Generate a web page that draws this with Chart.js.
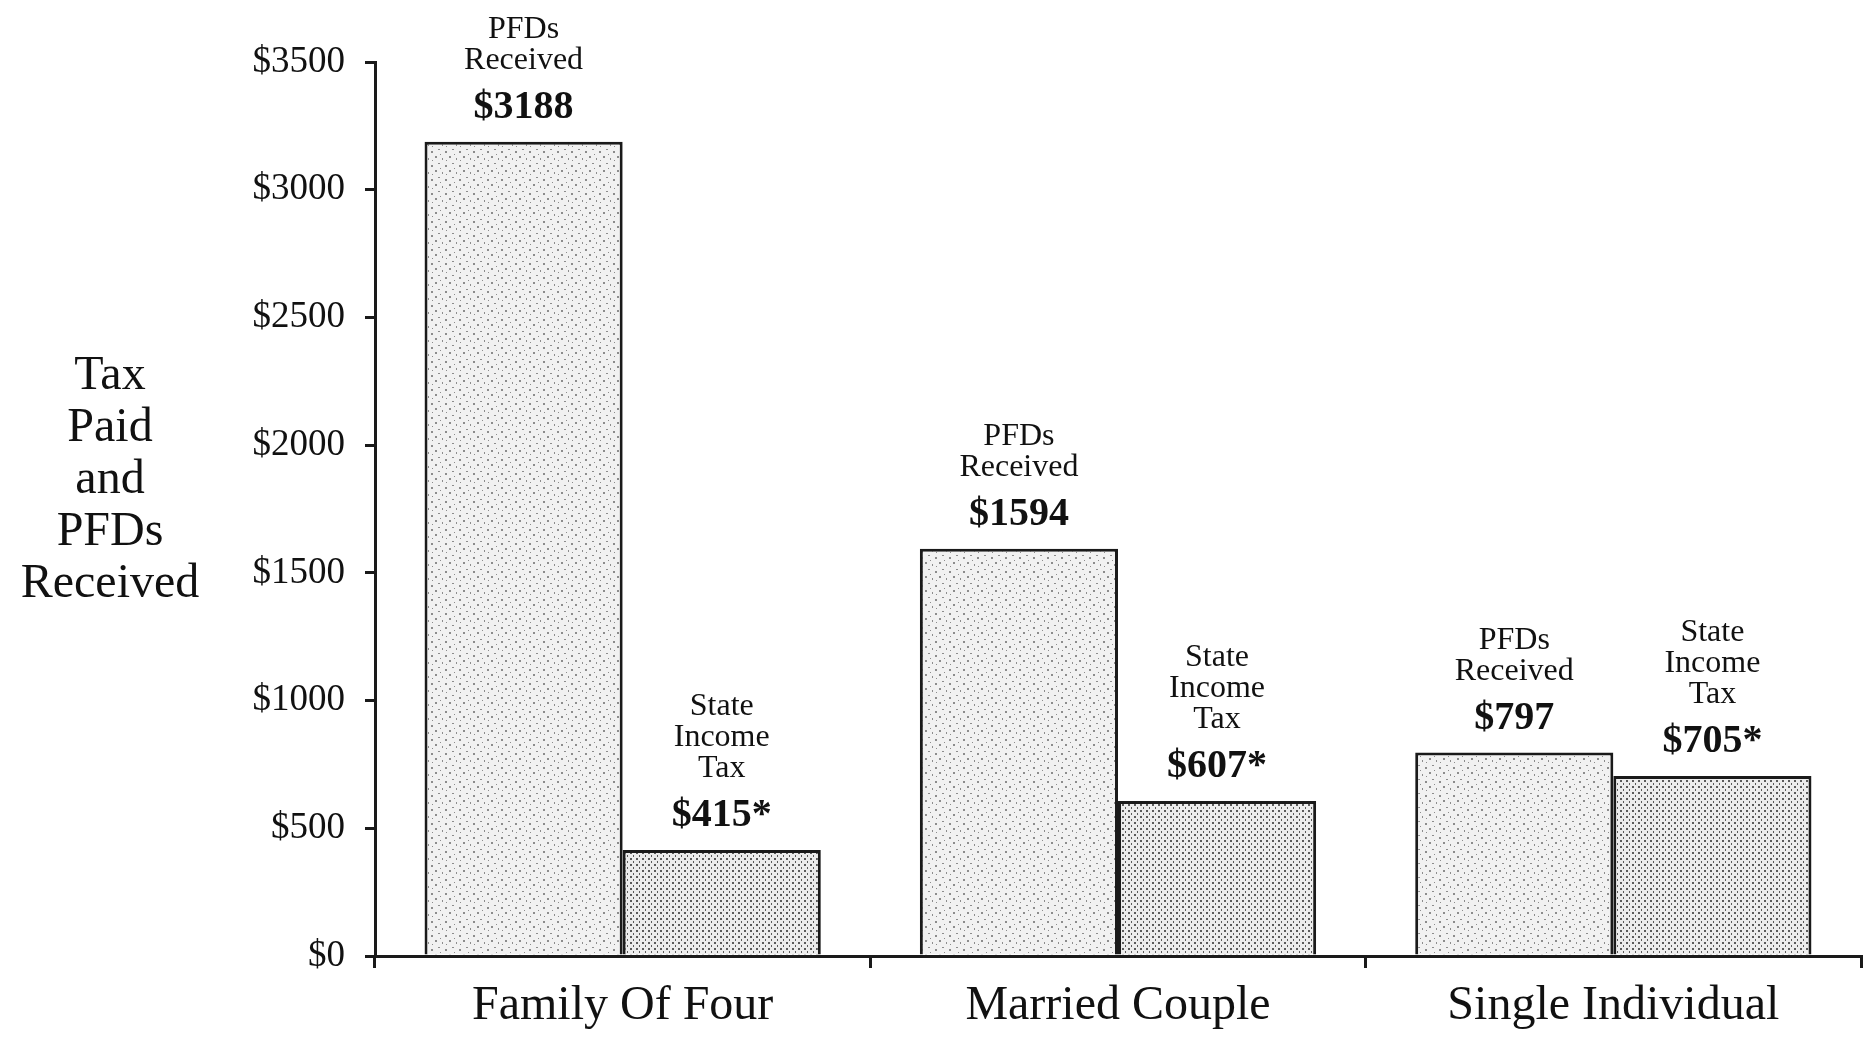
<!DOCTYPE html>
<html>
<head>
<meta charset="utf-8">
<script src="https://cdn.jsdelivr.net/npm/chart.js@4.4.1/dist/chart.umd.min.js"></script>
<style>
  html, body { margin: 0; padding: 0; background: #ffffff; }
  #wrap { width: 1873px; height: 1053px; position: relative; }
</style>
</head>
<body>
<div id="wrap"><canvas id="c"></canvas></div>
<script>
// ---- Data ----
const categories = ['Family Of Four', 'Married Couple', 'Single Individual'];
const pfdReceived = [3188, 1594, 797];
const stateIncomeTax = [415, 607, 705];
const seriesNames = ['PFDs Received', 'State Income Tax'];
const seriesLabelLines = [['PFDs', 'Received'], ['State', 'Income', 'Tax']];
const valueSuffix = ['', '*'];
const yTickValues = [0, 500, 1000, 1500, 2000, 2500, 3000, 3500];
const yTitleLines = ['Tax', 'Paid', 'and', 'PFDs', 'Received'];

// ---- Textures (fixed, deterministic stipple tiles) ----
function makeTile(size, bg, dots, dotColor) {
  const t = document.createElement('canvas');
  t.width = size; t.height = size;
  const g = t.getContext('2d');
  g.fillStyle = bg; g.fillRect(0, 0, size, size);
  g.fillStyle = dotColor;
  dots.forEach(d => g.fillRect(d[0], d[1], d[2], d[3]));
  return g.createPattern(t, 'repeat');
}
const ctx = document.getElementById('c').getContext('2d');
const pfdPattern = makeTile(14, '#f1f1f1',
  [[1,2,2,2],[8,4,1,2],[4,9,2,1],[11,11,2,2],[6,0,1,1],[12,6,1,1]], '#8c8c8c');
const taxPattern = makeTile(6, '#ececec',
  [[0,0,2,2],[3,3,1,2]], '#5a5a5a');

const serif = "'Liberation Serif', 'Times New Roman', serif";

const labelPlugin = {
  id: 'barLabels',
  afterDatasetsDraw(chart) {
    const c = chart.ctx;
    c.save();
    c.fillStyle = '#111';
    c.textAlign = 'center';
    c.textBaseline = 'middle';
    chart.data.datasets.forEach((ds, di) => {
      const meta = chart.getDatasetMeta(di);
      meta.data.forEach((el, i) => {
        const x = el.x;
        const valueY = el.y - 34;
        c.font = 'bold 40px ' + serif;
        c.fillText('$' + ds.data[i] + valueSuffix[di], x, valueY);
        c.font = '32px ' + serif;
        const lines = seriesLabelLines[di];
        let y = valueY - 47;
        for (let k = lines.length - 1; k >= 0; k--) {
          c.fillText(lines[k], x, y);
          y -= 31;
        }
      });
    });
    c.restore();
  }
};

const yTitlePlugin = {
  id: 'yTitle',
  afterDraw(chart) {
    const c = chart.ctx;
    const a = chart.chartArea;
    c.save();
    c.fillStyle = '#111';
    c.textAlign = 'center';
    c.textBaseline = 'middle';
    c.font = '48px ' + serif;
    const x = a.left - 265;
    const step = 52;
    const startY = a.top + 418 - step * (yTitleLines.length - 1) / 2;
    yTitleLines.forEach((t, k) => c.fillText(t, x, startY + k * step));
    c.restore();
  }
};

new Chart(ctx, {
  type: 'bar',
  data: {
    labels: categories,
    datasets: [
      {
        label: seriesNames[0],
        data: pfdReceived,
        backgroundColor: pfdPattern,
        borderColor: '#1a1a1a',
        borderWidth: 3,
        barPercentage: 1.0,
        categoryPercentage: 0.8
      },
      {
        label: seriesNames[1],
        data: stateIncomeTax,
        backgroundColor: taxPattern,
        borderColor: '#1a1a1a',
        borderWidth: 3,
        barPercentage: 1.0,
        categoryPercentage: 0.8
      }
    ]
  },
  options: {
    responsive: true,
    maintainAspectRatio: false,
    animation: false,
    layout: { padding: { top: 62, right: 12, left: 0, bottom: 0 } },
    plugins: {
      legend: { display: false },
      tooltip: { enabled: false },
      title: { display: false }
    },
    scales: {
      x: {
        offset: true,
        grid: {
          display: true,
          drawOnChartArea: false,
          drawTicks: true,
          tickLength: 12,
          color: '#1a1a1a',
          lineWidth: 3,
          offset: true
        },
        border: { display: true, color: '#1a1a1a', width: 3 },
        ticks: {
          color: '#111',
          font: { family: serif, size: 48 },
          padding: 10
        },
        afterFit(s) { s.height = 97; }
      },
      y: {
        min: 0,
        max: 3500,
        afterBuildTicks(s) { s.ticks = yTickValues.map(v => ({ value: v })); },
        grid: {
          display: true,
          drawOnChartArea: false,
          drawTicks: true,
          tickLength: 10,
          color: '#1a1a1a',
          lineWidth: 3
        },
        border: { display: true, color: '#1a1a1a', width: 3 },
        ticks: {
          color: '#111',
          font: { family: serif, size: 37 },
          padding: 20,
          callback: v => '$' + v
        },
        afterFit(s) { s.width = 375; }
      }
    }
  },
  plugins: [labelPlugin, yTitlePlugin]
});
</script>
</body>
</html>
